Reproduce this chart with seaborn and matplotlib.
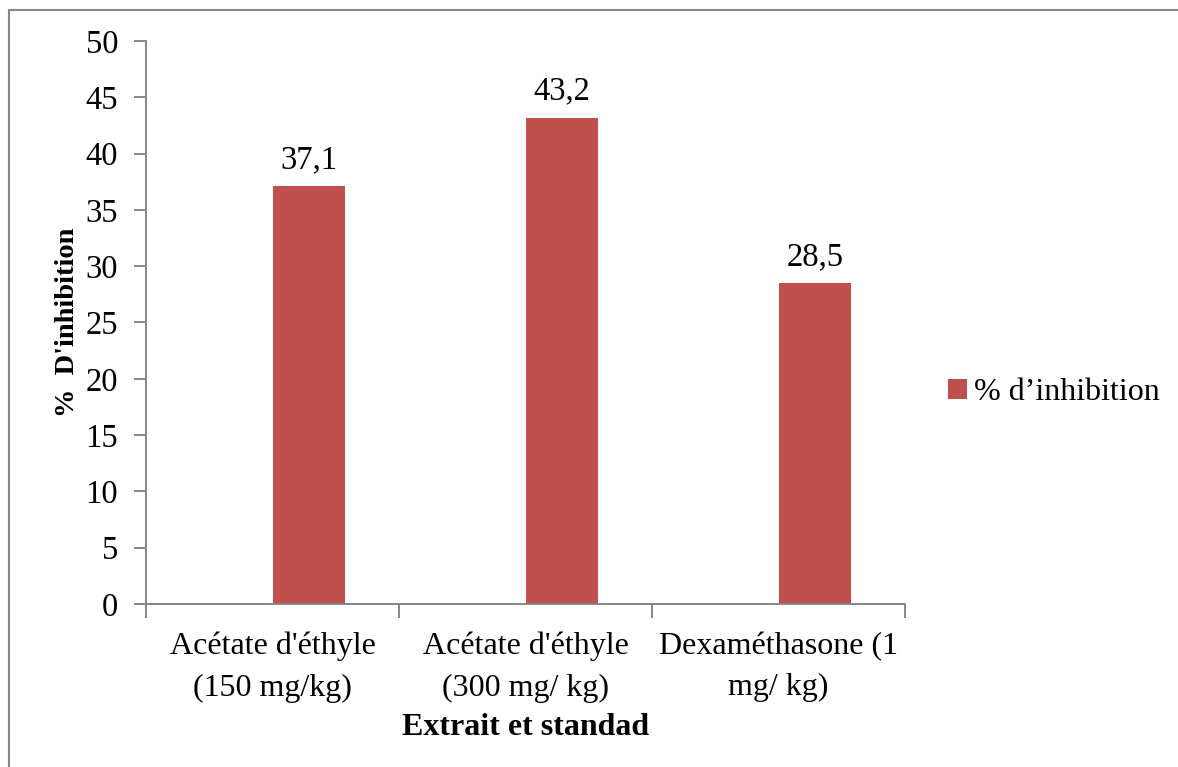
import numpy as np
import pandas as pd
import matplotlib
matplotlib.use("Agg")
import matplotlib.pyplot as plt
import seaborn as sns
from matplotlib.lines import Line2D
from matplotlib.patches import Patch
from matplotlib.ticker import FixedLocator

# Data
categories = [
    "Acétate d'éthyle\n(150 mg/kg)",
    "Acétate d'éthyle\n(300 mg/ kg)",
    "Dexaméthasone (1\nmg/ kg)",
]
inhibition = [37.1, 43.2, 28.5]
value_labels = ["37,1", "43,2", "28,5"]
series_name = "% d’inhibition"
y_ticks = list(range(0, 51, 5))

sns.set_style("white")
plt.rcParams["font.family"] = ["Liberation Serif", "DejaVu Serif"]
plt.rcParams["text.color"] = "black"
plt.rcParams["axes.labelcolor"] = "black"
plt.rcParams["xtick.labelcolor"] = "black"
plt.rcParams["ytick.labelcolor"] = "black"

bar_color = "#C0504D"
axis_color = "#868686"
FS = 23.5

# An empty first series keeps the bars to the right of each category centre
df = pd.DataFrame({
    "categorie": categories * 2,
    "valeur": [np.nan] * len(categories) + inhibition,
    "serie": [" "] * len(categories) + [series_name] * len(categories),
})

W, H = 1178, 767
fig = plt.figure(figsize=(W / 100, H / 100), dpi=100)
ax = fig.add_axes([146 / W, (H - 604) / H, (905 - 146) / W, (604 - 41) / H])

sns.barplot(
    data=df, x="categorie", y="valeur", hue="serie",
    hue_order=[" ", series_name], palette=["white", bar_color],
    width=4 / 7, gap=0, linewidth=0, errorbar=None, legend=False,
    saturation=1, ax=ax,
)

# Value labels above the bars
ax.bar_label(ax.containers[-1], labels=value_labels, padding=8, fontsize=FS,
             color="black")

# Axes
ax.set_ylim(0, 50)
ax.set_xlim(-0.5, len(categories) - 0.5)
ax.set_yticks(y_ticks)
ax.set_yticklabels([str(t) for t in y_ticks], fontsize=FS)
ax.set_xticks(range(len(categories)))
ax.set_xticklabels(categories, fontsize=23, linespacing=1.55)
ax.xaxis.set_minor_locator(FixedLocator([i - 0.5 for i in range(len(categories) + 1)]))

for side in ("top", "right"):
    ax.spines[side].set_visible(False)
for side in ("left", "bottom"):
    ax.spines[side].set_color(axis_color)
    ax.spines[side].set_linewidth(1.4)

ax.tick_params(axis="y", which="major", length=9, width=1.4, color=axis_color,
               direction="out", pad=11, left=True)
ax.tick_params(axis="x", which="major", length=0, pad=20)
ax.tick_params(axis="x", which="minor", length=10, width=1.4, color=axis_color,
               direction="out", bottom=True)

ax.set_xlabel("Extrait et standad", fontsize=23, fontweight="bold")
ax.set_ylabel("%  D'inhibition", fontsize=20.5, fontweight="bold")
ax.xaxis.set_label_coords(0.5, -0.193)
ax.xaxis.label.set_va("top")
ax.yaxis.set_label_coords(-0.087, 0.5)

# Legend
handle = Patch(facecolor=bar_color, edgecolor="none")
fig.legend([handle], [series_name], loc="center left",
           bbox_to_anchor=(948 / W, 1 - 393 / H), frameon=False,
           fontsize=23, handlelength=0.6, handleheight=0.6,
           handletextpad=0.2, borderpad=0, borderaxespad=0)

# Chart area border
fig.add_artist(Line2D([9 / W, 9 / W], [0, 1 - 10 / H], transform=fig.transFigure,
                      color=axis_color, lw=1.5))
fig.add_artist(Line2D([9 / W, 1], [1 - 10 / H, 1 - 10 / H], transform=fig.transFigure,
                      color=axis_color, lw=1.5))

fig.savefig("out.png", dpi=100, facecolor="white")
